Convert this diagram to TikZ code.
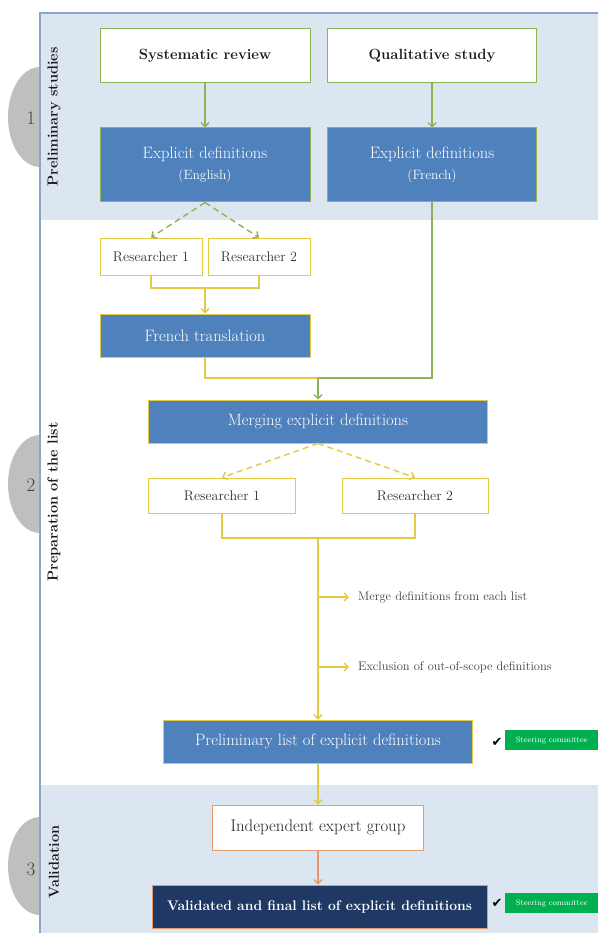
\documentclass[tikz,border=0pt]{standalone}
\usepackage{fontspec}
\newfontfamily\symbfont{DejaVu Sans}
\usetikzlibrary{arrows.meta,positioning,calc}
\definecolor{bandblue}{HTML}{DCE6F1}
\definecolor{framegray}{HTML}{8DA5C4}
\definecolor{boxblue}{HTML}{4F81BD}
\definecolor{navy}{HTML}{1F3864}
\definecolor{leafgreen}{HTML}{8FB255}
\definecolor{goldline}{HTML}{E4C944}
\definecolor{salmon}{HTML}{E69A6C}
\definecolor{stonegray}{HTML}{BFBFBF}
\definecolor{steergreen}{HTML}{00B050}

\begin{document}
\begin{tikzpicture}[x=1pt,y=-1pt,
   >={Straight Barb[length=4pt,width=8pt]},
   wbox/.style={draw=leafgreen,fill=white,line width=1pt,minimum height=54pt,text=black!90,font=\fontsize{14.8}{17}\selectfont\bfseries},
   bbox/.style={draw=goldline,fill=boxblue,text=white,line width=1pt,align=center,minimum height=43pt,font=\fontsize{16.5}{21}\selectfont},
   rbox/.style={draw=goldline,fill=white,line width=1pt,text=black!80,font=\fontsize{14}{16}\selectfont},
   gline/.style={leafgreen,line width=1.4pt},
   yline/.style={goldline,line width=1.4pt},
   sline/.style={salmon,line width=1.4pt},
   dashes/.style={dash pattern=on 6pt off 4pt},
   note/.style={anchor=west,inner xsep=9pt,inner ysep=0pt,text=black!75,font=\fontsize{12.5}{14}\selectfont},
   stagelbl/.style={rotate=90,text=black!90,font=\fontsize{14.5}{16}\selectfont\bfseries},
   stageno/.style={text=black!75,font=\fontsize{19}{20}\selectfont},
   steer/.style={anchor=west,fill=steergreen,text=white,minimum width=93pt,minimum height=20pt,inner sep=0pt,font=\fontsize{8}{9}\selectfont},
   tick/.style={inner sep=0pt,font=\symbfont\fontsize{13}{14}\selectfont}]
  \useasboundingbox (0,0) rectangle (598,933);
  % stage markers and bands
  \fill[stonegray] (40,117) ellipse (32 and 50);
  \fill[stonegray] (40,484) ellipse (32 and 49);
  \fill[stonegray] (40,866) ellipse (32 and 49);
  \fill[bandblue] (40,13) rectangle (598,220);
  \fill[white] (40,220) rectangle (598,785);
  \fill[bandblue] (40,785) rectangle (598,933);
  \draw[framegray,line width=1.2pt] (40,933) -- (40,13) -- (598,13);
  \node[stageno] (no1) at (31,118) {1};
  \node[stageno] (no2) at (31,485) {2};
  \node[stageno] (no3) at (31,869) {3};
  \node[stagelbl] (st1) at (54,117) {Preliminary studies};
  \node[stagelbl] (st2) at (54,502) {Preparation of the list};
  \node[stagelbl] (st3) at (54,862) {Validation};
  % stage 1
  \node[wbox,minimum width=210pt] (sys) at (205,56) {Systematic review};
  \node[wbox,minimum width=209pt] (qual) at (432,56) {Qualitative study};
  \node[bbox,draw=leafgreen,minimum width=210pt,minimum height=74pt] (expEn) at (205,165) {Explicit definitions\\{\fontsize{13.5}{15}\selectfont(English)}};
  \node[bbox,draw=leafgreen,minimum width=209pt,minimum height=74pt] (expFr) at (432,165) {Explicit definitions\\{\fontsize{13.5}{15}\selectfont(French)}};
  \draw[gline,->] (sys) -- (expEn);
  \draw[gline,->] (qual) -- (expFr);
  % stage 2
  \node[rbox,minimum width=102pt,minimum height=37pt] (resA1) at (151,256.5) {Researcher 1};
  \node[rbox,minimum width=102pt,minimum height=37pt] (resA2) at (259,256.5) {Researcher 2};
  \draw[gline,dashes,->] (expEn.south) -- (resA1.north);
  \draw[gline,dashes,->] (expEn.south) -- (resA2.north);
  \node[bbox,minimum width=210pt] (french) at (205,335.5) {French translation};
  \coordinate (jA) at (205,288);
  \draw[yline] (resA1.south) |- (jA) -| (resA2.south);
  \draw[yline,->] (jA) -- (french.north);
  \node[bbox,minimum width=339pt] (merge) at (318,421.5) {Merging explicit definitions};
  \coordinate (jB) at (318,378);
  \draw[yline] (french.south) |- (jB);
  \draw[gline] (expFr.south) |- (jB);
  \draw[gline,->] (jB) -- (merge.north);
  \node[rbox,minimum width=147pt,minimum height=35pt] (resB1) at (222,495.5) {Researcher 1};
  \node[rbox,minimum width=146pt,minimum height=35pt] (resB2) at (415,495.5) {Researcher 2};
  \draw[yline,dashes,->] (merge.south) -- (resB1.north);
  \draw[yline,dashes,->] (merge.south) -- (resB2.north);
  \node[bbox,minimum width=309pt] (prelim) at (318,741.5) {Preliminary list of explicit definitions};
  \coordinate (jC) at (318,538);
  \draw[yline] (resB1.south) |- (jC) -| (resB2.south);
  \draw[yline,->] (jC) -- (prelim.north);
  \coordinate (s1) at (318,597);
  \coordinate (s2) at (318,667);
  \node[note] (n1) at (349,597) {Merge definitions from each list};
  \node[note] (n2) at (349,667) {Exclusion of out-of-scope definitions};
  \draw[yline,->] (s1) -- (n1.west);
  \draw[yline,->] (s2) -- (n2.west);
  \node[tick] (ck1) at (497,742) {✔};
  \node[steer] (sc1) at (505,740) {Steering committee};
  % stage 3
  \node[rbox,draw=salmon,minimum width=211pt,minimum height=45pt,font=\fontsize{16.8}{19}\selectfont,text=black!85] (expert) at (318,827.5) {Independent expert group};
  \node[bbox,draw=salmon,fill=navy,minimum width=335pt,font=\fontsize{13.9}{16}\selectfont\bfseries] (final) at (319.5,906.5) {Validated and final list of explicit definitions};
  \draw[yline,->] (prelim) -- (expert);
  \draw[sline,->] (expert.south) -- (expert.south |- final.north);
  \node[tick] (ck2) at (497,903) {✔};
  \node[steer] (sc2) at (505,903) {Steering committee};
\end{tikzpicture}
\end{document}
